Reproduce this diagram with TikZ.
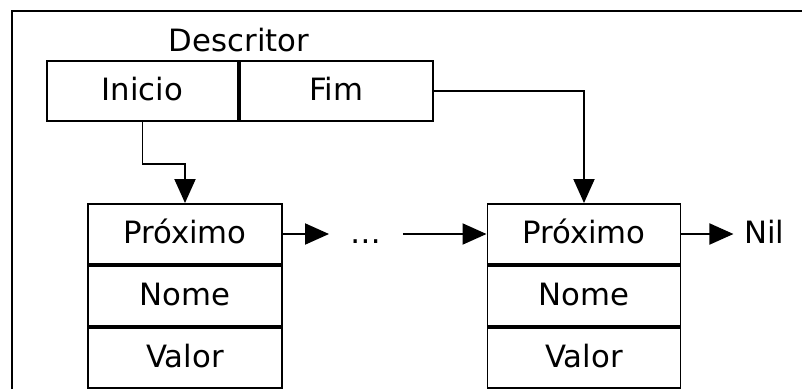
\documentclass[tikz,border=0pt]{standalone}
\usepackage{fontspec}
\setmainfont{DejaVu Sans}
\usetikzlibrary{arrows.meta, positioning}
\tikzset{
  every picture/.style={font=\fontsize{17.5}{20}\selectfont, line width=1.1pt},
  cell/.style={draw, minimum height=1.2cm, inner sep=0pt, text height=1.05em, text depth=0pt},
  arrow/.style={-{Triangle[length=0.48cm, width=0.42cm]}},
  title/.style={inner sep=0pt},
}
\begin{document}
\begin{tikzpicture}[x=1cm, y=1cm]
  \useasboundingbox (0,0) rectangle (16.04,7.78);
  % frame, cut at the page edge
  \draw (0.24,0) -- (0.24,7.56) -- (16.04,7.56);
  % descriptor
  \node[cell, minimum width=3.82cm] (ini) at (2.85,5.96) {Inicio};
  \node[cell, minimum width=3.86cm, right=0pt of ini] (fim) {Fim};
  \node[title, above=0.14cm of ini.north east] (desc) {Descritor};
  % first element
  \node[cell, minimum width=3.88cm] (p1) at (3.70,3.10) {Próximo};
  \node[cell, minimum width=3.88cm, below=0pt of p1] (n1) {Nome};
  \node[cell, minimum width=3.88cm, below=0pt of n1] (v1) {Valor};
  % last element
  \node[cell, minimum width=3.86cm] (p2) at (11.68,3.10) {Próximo};
  \node[cell, minimum width=3.86cm, below=0pt of p2] (n2) {Nome};
  \node[cell, minimum width=3.86cm, below=0pt of n2] (v2) {Valor};
  \node[inner sep=0pt, minimum width=1.44cm, text height=1.05em, text depth=0pt] (dots) at (7.32,3.10) {\dots};
  \node[inner xsep=0.2cm, inner ysep=0pt, text height=1.05em, text depth=0pt, right=0cm of p2, xshift=1.04cm] (nil) {Nil};
  % pointers
  \draw[arrow] (ini.south) -- ++(0,-0.84) -| (p1.north);
  \draw[arrow] (fim.east) -| (p2.north);
  \draw[arrow] (p1.east) -- (dots.west);
  \draw[arrow] (dots.east) -- (p2.west);
  \draw[arrow] (p2.east) -- (nil.west);
\end{tikzpicture}
\end{document}
